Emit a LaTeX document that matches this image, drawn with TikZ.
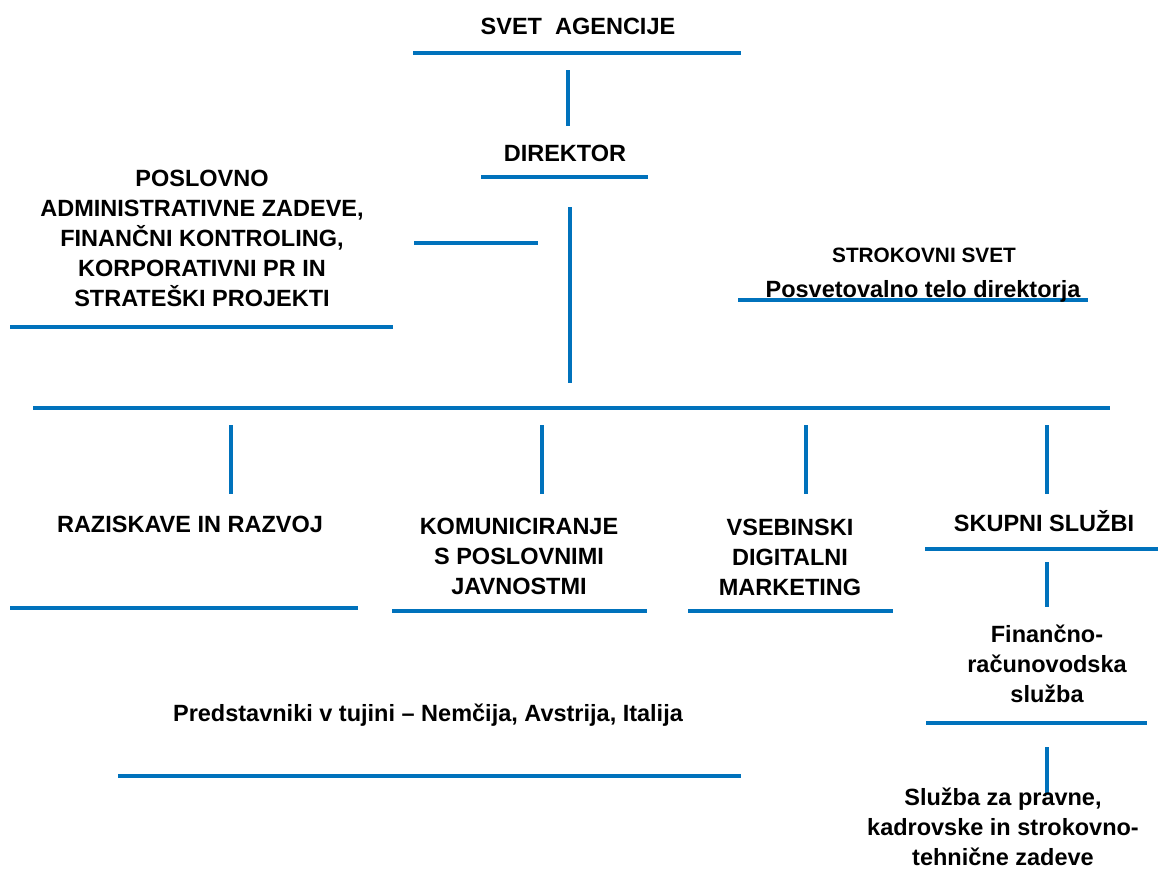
\documentclass[tikz,border=0pt]{standalone}
\usepackage{fontspec}
\setmainfont{Liberation Sans}
\usepackage{tikz}
\usetikzlibrary{positioning}
\definecolor{modraorg}{RGB}{0,114,188}

\begin{document}
\begin{tikzpicture}[x=0.5pt,y=-0.5pt]
% parametri
\tikzstyle crtaorg=[color=modraorg,line width=2pt]
\tikzstyle palicaorg=[color=modraorg,line width=1.8pt]
\tikzstyle tekstorg=[font=\fontsize{11.75}{15}\selectfont\bfseries,align=center,inner sep=0pt,anchor=base]
\tikzstyle manjsiorg=[font=\fontsize{10.4}{13}\selectfont\bfseries,align=center,inner sep=0pt,anchor=base]
\useasboundingbox (0,0) rectangle (1158,878);
% vodstvo
\node[tekstorg] (svet) at (578,34) {SVET\ \ AGENCIJE};
\draw[crtaorg] (413,53) -- (741,53);
\draw[palicaorg] (568,70) -- (568,126);
\node[tekstorg] (direktor) at (565,161) {DIREKTOR};
\draw[crtaorg] (481,177) -- (648,177);
\draw[palicaorg] (570,207) -- (570,383);
% stab in svet
\draw[crtaorg] (414,243) -- (538,243);
\node[tekstorg] (poslovno) at (202,306) {POSLOVNO\\ADMINISTRATIVNE ZADEVE,\\FINANČNI KONTROLING,\\KORPORATIVNI PR IN\\STRATEŠKI PROJEKTI};
\draw[crtaorg] (10,327) -- (393,327);
\node[manjsiorg] (strokovni) at (924,262) {STROKOVNI SVET};
\draw[crtaorg] (738,300) -- (1088,300);
\node[tekstorg] (posvet) at (923,297) {Posvetovalno telo direktorja};
% sektorji
\draw[crtaorg] (33,408) -- (1110,408);
\foreach \x in {231,542,806,1047}
    \draw[palicaorg] (\x,425) -- (\x,494);
\node[tekstorg] (raziskave) at (190,532) {RAZISKAVE IN RAZVOJ};
\draw[crtaorg] (10,608) -- (358,608);
\node[tekstorg] (komunic) at (519,594) {KOMUNICIRANJE\\S POSLOVNIMI\\JAVNOSTMI};
\draw[crtaorg] (392,611) -- (647,611);
\node[tekstorg] (vsebinski) at (790,595) {VSEBINSKI\\DIGITALNI\\MARKETING};
\draw[crtaorg] (688,611) -- (893,611);
\node[tekstorg] (skupni) at (1044,531) {SKUPNI SLUŽBI};
\draw[crtaorg] (925,549) -- (1158,549);
\draw[palicaorg] (1047,562) -- (1047,607);
\node[tekstorg] (financno) at (1047,702) {Finančno-\\računovodska\\služba};
\draw[crtaorg] (926,723) -- (1147,723);
\draw[palicaorg] (1047,747) -- (1047,795);
\node[tekstorg] (pravne) at (1003,865) {Služba za pravne,\\kadrovske in strokovno-\\tehnične zadeve};
% tujina
\node[tekstorg] (predstav) at (428,721) {Predstavniki v tujini – Nemčija, Avstrija, Italija};
\draw[crtaorg] (118,776) -- (741,776);
\end{tikzpicture}
\end{document}
